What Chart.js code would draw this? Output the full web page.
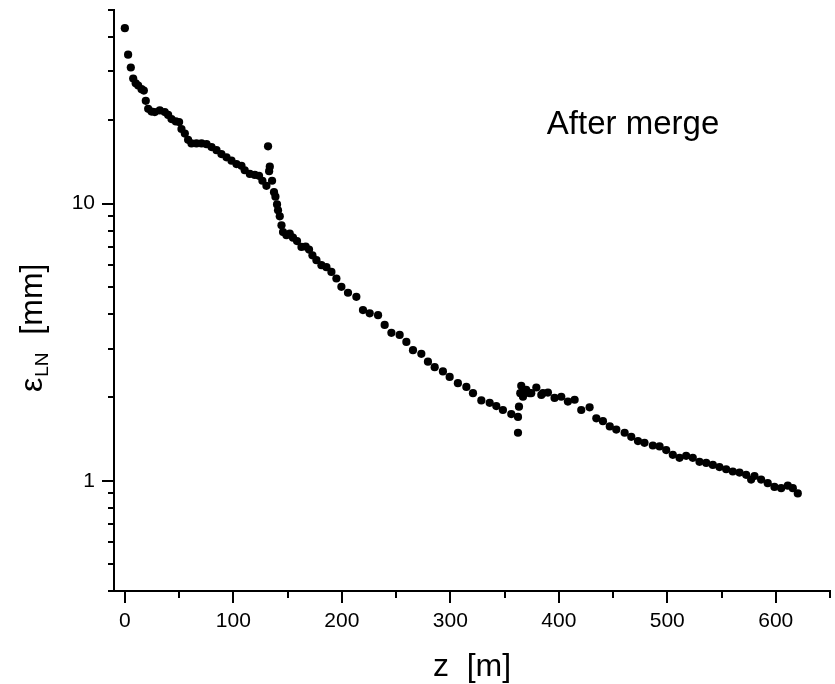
<!DOCTYPE html>
<html>
<head>
<meta charset="utf-8">
<script src="https://cdn.jsdelivr.net/npm/chart.js@4"></script>
<style>
  body { margin: 0; background: #fff; }
  #wrap { width: 835px; height: 684px; }
</style>
</head>
<body>
<div id="wrap"><canvas id="chart" width="835" height="684"></canvas></div>
<script>
// values
const zValues = [
  0, 3, 5.5, 7.7, 10, 12.3, 15.4, 17.5, 19.3, 21.5, 24.6, 27.6, 32.2, 36.8, 39.9,
  43, 47, 50, 52.2, 55.3, 58.3, 61.4, 66, 70.7, 75.3, 79.9, 84.5, 89, 93.7, 98.3,
  102.9, 107.5, 110.5, 115.2, 119.8, 123.7, 126.8, 130.5, 132, 133, 133.6, 135.7,
  137.5, 138.8, 140.3, 141.2, 142.8, 144.4, 145.8, 149, 152, 155, 158.7, 162.8,
  166.7, 169.8, 172.9, 176.6, 181.2, 185.8, 190.4, 195, 199.6, 205.7, 213.4, 219.5,
  225.7, 233.4, 239.5, 245.7, 253.3, 259.5, 265.6, 273.3, 279.4, 285.6, 293.2,
  299.4, 307, 314.8, 320.9, 328.6, 336.3, 342.4, 348.5, 356.2, 362.4, 362.4,
  363.3, 364.5, 365.4, 366.3, 367, 370, 373, 374.6, 379.3, 383.9, 385.4, 390,
  396.1, 402.3, 408.4, 414.6, 420.7, 428.4, 434.6, 440.7, 447, 453, 460.7, 466.8,
  473, 479, 486.7, 492.9, 499, 505.1, 511.3, 517.4, 523.5, 529.7, 535.9, 542,
  548.1, 554.3, 560.4, 566.6, 572.7, 577.3, 580.4, 586.5, 592.6, 598.8, 605,
  611.1, 615.7, 620.3
];
const epsValues = [
  43.0, 34.5, 31.0, 28.3, 27.2, 26.7, 25.9, 25.6, 23.5, 22.0, 21.5, 21.4, 21.7, 21.4, 20.9,
  20.2, 19.8, 19.7, 18.6, 17.9, 17.0, 16.5, 16.5, 16.5, 16.4, 16.0, 15.6, 15.1, 14.7, 14.3,
  13.9, 13.7, 13.2, 12.8, 12.7, 12.6, 12.1, 11.6, 16.1, 13.1, 13.6, 12.1,
  11.0, 10.6, 9.94, 9.46, 9.0, 8.35, 7.9, 7.69, 7.8, 7.54, 7.33, 6.98,
  7.0, 6.83, 6.51, 6.25, 6.0, 5.9, 5.67, 5.37, 5.01, 4.77, 4.61, 4.13,
  4.02, 3.96, 3.65, 3.42, 3.36, 3.17, 2.96, 2.87, 2.69, 2.57, 2.48,
  2.37, 2.25, 2.18, 2.07, 1.95, 1.91, 1.86, 1.80, 1.74, 1.70, 1.49,
  1.85, 2.07, 2.20, 2.07, 2.01, 2.13, 2.07, 2.07, 2.17, 2.04, 2.07, 2.08,
  1.99, 2.01, 1.93, 1.96, 1.80, 1.84, 1.68, 1.64, 1.57, 1.53, 1.49, 1.44,
  1.39, 1.37, 1.34, 1.33, 1.29, 1.24, 1.21, 1.23, 1.21, 1.17, 1.16, 1.14,
  1.12, 1.10, 1.08, 1.07, 1.05, 1.01, 1.04, 1.01, 0.98, 0.95, 0.94,
  0.96, 0.94, 0.90
];

const xTicks = [0, 50, 100, 150, 200, 250, 300, 350, 400, 450, 500, 550, 600, 650];
const xLabels = [0, 100, 200, 300, 400, 500, 600];
const yTicks = [0.4, 0.5, 0.6, 0.7, 0.8, 0.9, 1, 2, 3, 4, 5, 6, 7, 8, 9, 10, 20, 30, 40, 50];
const yLabels = [1, 10];

const FONT = 'Arial, "Liberation Sans", sans-serif';

// tick marks, axis titles and the note, drawn through the scales
const decorations = {
  id: "decorations",
  afterDraw(chart) {
    const { ctx, chartArea: a, scales } = chart;
    const x = scales.x, y = scales.y;
    ctx.save();
    ctx.strokeStyle = "#000";
    ctx.lineWidth = 2;
    ctx.beginPath();
    xTicks.forEach((v) => {
      const px = Math.round(x.getPixelForValue(v));
      const len = xLabels.includes(v) ? 12 : 7;
      ctx.moveTo(px, a.bottom);
      ctx.lineTo(px, a.bottom + len);
    });
    yTicks.forEach((v) => {
      const py = Math.round(y.getPixelForValue(v));
      const len = yLabels.includes(v) ? 12 : 6;
      ctx.moveTo(a.left, py);
      ctx.lineTo(a.left - len, py);
    });
    ctx.stroke();

    ctx.fillStyle = "#000";
    ctx.textBaseline = "alphabetic";

    // x title
    ctx.font = "32px " + FONT;
    ctx.textAlign = "center";
    ctx.fillText("z  [m]", (a.left + a.right) / 2, 676);

    // note
    ctx.textAlign = "left";
    ctx.font = "33px " + FONT;
    ctx.fillText("After merge", x.getPixelForValue(389), y.getPixelForValue(17.8));

    // y title, rotated, with subscript
    ctx.translate(42, 392);
    ctx.rotate(-Math.PI / 2);
    ctx.font = "32px " + FONT;
    ctx.fillText("ε", 0, 0);
    let off = ctx.measureText("ε").width + 1;
    ctx.font = "19px " + FONT;
    ctx.fillText("LN", off, 6);
    off += ctx.measureText("LN").width;
    ctx.font = "32px " + FONT;
    ctx.fillText("  [mm]", off, 0);
    ctx.restore();
  },
};

const points = zValues.map((z, i) => ({ x: z, y: epsValues[i] }));

new Chart(document.getElementById("chart"), {
  type: "scatter",
  data: {
    datasets: [{
      data: points,
      backgroundColor: "#000",
      borderWidth: 0,
      pointRadius: 4.1,
      pointHoverRadius: 4.1,
    }],
  },
  options: {
    responsive: false,
    animation: false,
    devicePixelRatio: 1,
    layout: { padding: { top: 10, right: 5, left: 0, bottom: 0 } },
    plugins: { legend: { display: false }, tooltip: { enabled: false } },
    scales: {
      x: {
        type: "linear",
        min: -10,
        max: 650,
        afterFit: (s) => {
          s.height = 93;
          s.paddingLeft = 0; s.paddingRight = 0;
          s.paddingTop = 0; s.paddingBottom = 0;
        },
        afterBuildTicks: (s) => { s.ticks = xTicks.map((v) => ({ value: v })); },
        grid: { display: false, drawTicks: false },
        border: { display: true, color: "#000", width: 2 },
        ticks: {
          autoSkip: false,
          maxRotation: 0,
          padding: 18,
          color: "#000",
          font: { family: FONT, size: 21 },
          callback: (v) => (xLabels.includes(v) ? String(v) : ""),
        },
      },
      y: {
        type: "logarithmic",
        min: 0.4,
        max: 50,
        afterFit: (s) => {
          s.width = 114;
          s.paddingLeft = 0; s.paddingRight = 0;
          s.paddingTop = 0; s.paddingBottom = 0;
        },
        afterBuildTicks: (s) => { s.ticks = yTicks.map((v) => ({ value: v })); },
        grid: { display: false, drawTicks: false },
        border: { display: true, color: "#000", width: 2 },
        ticks: {
          autoSkip: false,
          padding: 19,
          color: "#000",
          font: { family: FONT, size: 21 },
          callback: (v) => (yLabels.includes(v) ? String(v) : ""),
        },
      },
    },
  },
  plugins: [decorations],
});
</script>
</body>
</html>
